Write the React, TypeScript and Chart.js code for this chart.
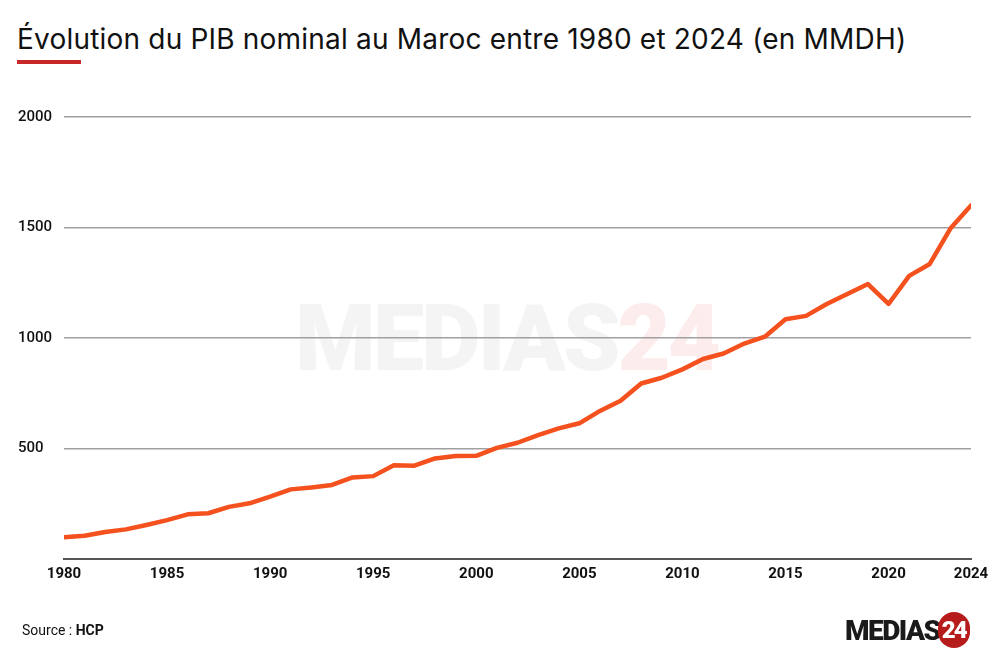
import React, { useEffect, useRef } from "react";
import { Chart, registerables } from "chart.js";

Chart.register(...registerables);

const years: number[] = [
  1980, 1981, 1982, 1983, 1984, 1985, 1986, 1987, 1988, 1989,
  1990, 1991, 1992, 1993, 1994, 1995, 1996, 1997, 1998, 1999,
  2000, 2001, 2002, 2003, 2004, 2005, 2006, 2007, 2008, 2009,
  2010, 2011, 2012, 2013, 2014, 2015, 2016, 2017, 2018, 2019,
  2020, 2021, 2022, 2023, 2024,
];
const pib: number[] = [
  98, 105, 122, 134, 154, 176, 202, 207, 236, 252,
  282, 315, 324, 335, 369, 375, 424, 422, 455, 466,
  467, 503, 526, 561, 591, 614, 670, 716, 794, 820,
  858, 905, 930, 975, 1006, 1085, 1100, 1154, 1199, 1244,
  1154, 1281, 1335, 1495, 1600,
];
const xTicks: number[] = [1980, 1985, 1990, 1995, 2000, 2005, 2010, 2015, 2020, 2024];
const yTicks: number[] = [0, 500, 1000, 1500, 2000];

export default function App() {
  const ref = useRef<HTMLCanvasElement | null>(null);

  useEffect(() => {
    document.body.style.margin = "0";
    if (!ref.current) return;
    const chart = new Chart(ref.current, {
      type: "line",
      data: {
        datasets: [
          {
            data: years.map((y, i) => ({ x: y, y: pib[i] })),
            borderColor: "#f4511e",
            borderWidth: 4.5,
            pointRadius: 0,
            tension: 0,
            borderJoinStyle: "round",
            borderCapStyle: "round",
          },
        ],
      },
      options: {
        animation: false,
        responsive: false,
        maintainAspectRatio: false,
        layout: { padding: { left: 18, right: 29, top: 117, bottom: 81 } },
        plugins: { legend: { display: false }, tooltip: { enabled: false } },
        scales: {
          x: {
            type: "linear",
            min: 1980,
            max: 2024,
            afterBuildTicks: (s: any) => {
              s.ticks = xTicks.map((v) => ({ value: v }));
            },
            afterFit: (s: any) => {
              s.height = 30;
            },
            grid: { display: false, drawTicks: false },
            border: { display: true, color: "#555", width: 2 },
            ticks: {
              color: "#111",
              padding: 6,
              maxRotation: 0,
              autoSkip: false,
              font: { family: "Roboto", size: 15, weight: "bold" },
              callback: (v: any) => String(v),
            },
          },
          y: {
            min: 0,
            max: 2000,
            afterBuildTicks: (s: any) => {
              s.ticks = yTicks.map((v) => ({ value: v }));
            },
            afterFit: (s: any) => {
              s.width = 46;
            },
            grid: {
              drawTicks: false,
              color: (c: any) => (c.tick && c.tick.value === 0 ? "rgba(0,0,0,0)" : "#a0a0a0"),
              lineWidth: 1.6,
            },
            border: { display: false },
            ticks: {
              color: "#111",
              crossAlign: "far",
              padding: 0,
              font: { family: "Roboto", size: 15, weight: 500 },
              callback: (v: any) => (v === 0 ? "" : String(v)),
            },
          },
        },
      },
    });
    return () => chart.destroy();
  }, []);

  return (
    <div
      style={{
        position: "fixed",
        left: 0,
        top: 0,
        width: 1000,
        height: 670,
        background: "#fff",
        overflow: "hidden",
        fontFamily: "Roboto, sans-serif",
      }}
    >
      <div
        style={{
          position: "absolute",
          left: 17,
          top: 21,
          fontFamily: "Inter, sans-serif",
          fontSize: 28,
          lineHeight: "36px",
          color: "#111",
          whiteSpace: "nowrap",
          letterSpacing: 0.2,
        }}
      >
        Évolution du PIB nominal au Maroc entre 1980 et 2024 (en MMDH)
      </div>
      <div
        style={{
          position: "absolute",
          left: 17,
          top: 60,
          width: 64,
          height: 4,
          background: "#c62828",
        }}
      />
      <div
        style={{
          position: "absolute",
          left: 295,
          top: 285,
          fontSize: 92,
          fontWeight: 900,
          color: "#f4f4f4",
          letterSpacing: -3,
          whiteSpace: "nowrap",
          fontFamily: "Roboto, sans-serif",
        }}
      >
        MEDIAS<span style={{ color: "#fcecec" }}>24</span>
      </div>
      <canvas
        ref={ref}
        width={1000}
        height={670}
        style={{ position: "absolute", left: 0, top: 0, width: 1000, height: 670 }}
      />
      <div
        style={{
          position: "absolute",
          left: 22,
          top: 622,
          fontSize: 14,
          color: "#111",
          whiteSpace: "nowrap",
        }}
      >
        Source : <b>HCP</b>
      </div>
      <div
        style={{
          position: "absolute",
          left: 845,
          top: 612,
          display: "flex",
          alignItems: "center",
          whiteSpace: "nowrap",
        }}
      >
        <span
          style={{
            fontSize: 28,
            fontWeight: 900,
            color: "#1a1a1a",
            letterSpacing: -1.5,
            fontFamily: "Roboto, sans-serif",
          }}
        >
          MEDIAS
        </span>
        <span
          style={{
            display: "inline-block",
            width: 32,
            height: 36,
            borderRadius: 16,
            background: "#b71c1c",
            color: "#fff",
            fontSize: 24,
            fontWeight: 900,
            lineHeight: "36px",
            textAlign: "center",
            marginLeft: -2,
            letterSpacing: -2,
          }}
        >
          24
        </span>
      </div>
    </div>
  );
}
